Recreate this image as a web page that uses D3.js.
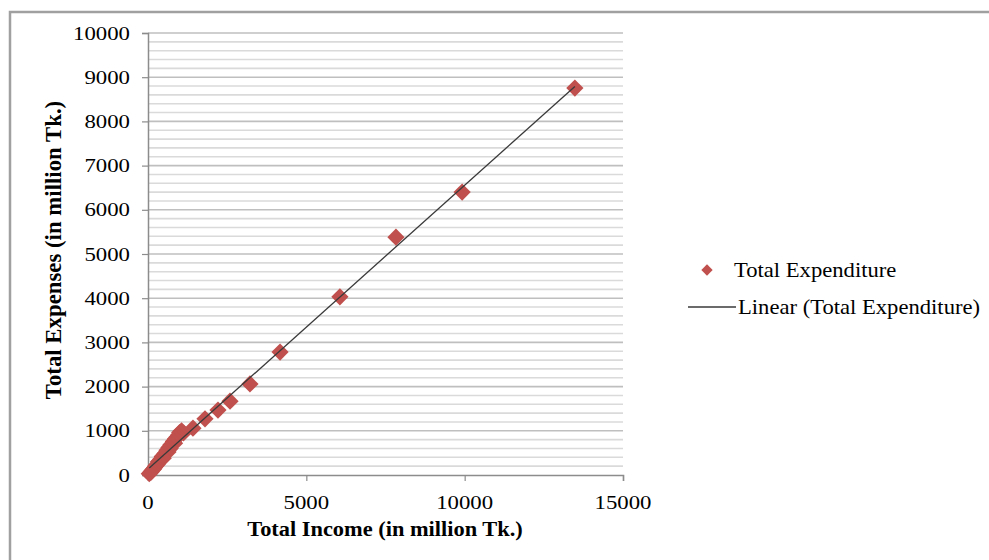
<!DOCTYPE html>
<html>
<head>
<meta charset="utf-8">
<script src="https://cdn.jsdelivr.net/npm/d3@7"></script>
<style>
  html, body { margin: 0; padding: 0; background: #fff; }
  svg { display: block; }
  text { font-family: "Liberation Serif", "Times New Roman", serif; fill: #000; }
</style>
</head>
<body>
<svg id="chart" width="989" height="560"></svg>
<script>
// ---- data (million Tk.) ----
const totalIncome = [
  13480, 9920, 7830, 6060, 4170, 3220, 2590, 2210, 1800, 1420, 1120,
  1060, 1000, 960, 920, 870, 840, 800, 760, 720, 700, 660, 630, 600,
  560, 520, 480, 450, 410, 370, 330, 290, 250, 210, 170, 130, 90, 40
];
const totalExpenditure = [
  8755, 6400, 5380, 4030, 2780, 2060, 1670, 1470, 1270, 1060, 950,
  1000, 960, 900, 860, 820, 720, 760, 700, 680, 600, 620, 520, 560,
  500, 470, 380, 420, 360, 320, 300, 240, 210, 170, 130, 100, 60, 30
];
const xTicks = [0, 5000, 10000, 15000];
const yTicks = [0, 1000, 2000, 3000, 4000, 5000, 6000, 7000, 8000, 9000, 10000];
const seriesName = "Total Expenditure";
const trendName = "Linear (Total Expenditure)";
const xTitle = "Total Income (in million Tk.)";
const yTitle = "Total Expenses (in million Tk.)";

// ---- layout ----
const svg = d3.select("#chart");
const pLeft = 148, pRight = 623, pTop = 33, pBottom = 475;
const x = d3.scaleLinear().domain([0, 15000]).range([pLeft, pRight]);
const y = d3.scaleLinear().domain([0, 10000]).range([pBottom, pTop]);
const red = "#c0504d";

// outer frame
svg.append("path")
  .attr("d", "M10,562 L10,12 L992,12")
  .attr("fill", "none").attr("stroke", "#a0a0a0").attr("stroke-width", 2.5);

// minor gridlines
const minor = d3.range(200, 10001, 200).filter(v => v % 1000 !== 0);
svg.append("g").selectAll("line").data(minor).join("line")
  .attr("x1", pLeft).attr("x2", pRight)
  .attr("y1", d => y(d)).attr("y2", d => y(d))
  .attr("stroke", "#dadada").attr("stroke-width", 1.6);

// major gridlines
svg.append("g").selectAll("line").data(yTicks.filter(v => v > 0)).join("line")
  .attr("x1", pLeft).attr("x2", pRight)
  .attr("y1", d => y(d)).attr("y2", d => y(d))
  .attr("stroke", "#bfbfbf").attr("stroke-width", 1.6);

// axes
const xAxis = svg.append("g").attr("transform", `translate(0,${pBottom})`)
  .call(d3.axisBottom(x).tickValues(xTicks).tickSize(6).tickFormat(""));
const yAxis = svg.append("g").attr("transform", `translate(${pLeft},0)`)
  .call(d3.axisLeft(y).tickValues(yTicks).tickSize(6).tickFormat(""));
[xAxis, yAxis].forEach(g => {
  g.select(".domain").attr("stroke", "#8c8c8c").attr("stroke-width", 1.5);
  g.selectAll(".tick line").attr("stroke", "#8c8c8c").attr("stroke-width", 1.2);
});

// tick labels (stretched horizontally like the source)
const tickSX = 1.2;
svg.append("g").selectAll("text").data(yTicks).join("text")
  .attr("transform", d => `translate(130,${y(d) + 6.5}) scale(${tickSX},1)`)
  .attr("text-anchor", "end").attr("font-size", 19)
  .text(d => d);
svg.append("g").selectAll("text").data(xTicks).join("text")
  .attr("transform", d => `translate(${x(d)},${pBottom + 34}) scale(${tickSX},1)`)
  .attr("text-anchor", "middle").attr("font-size", 19)
  .text(d => d);

// axis titles
svg.append("text")
  .attr("transform", `translate(385,536) scale(1.12,1)`)
  .attr("text-anchor", "middle").attr("font-size", 20).attr("font-weight", "bold")
  .text(xTitle);
svg.append("text")
  .attr("transform", `translate(61,250) rotate(-90)`)
  .attr("text-anchor", "middle").attr("font-size", 22.8).attr("font-weight", "bold")
  .text(yTitle);

// linear trendline (least squares)
const n = totalIncome.length;
const mx = d3.mean(totalIncome), my = d3.mean(totalExpenditure);
let sxy = 0, sxx = 0;
for (let i = 0; i < n; i++) {
  sxy += (totalIncome[i] - mx) * (totalExpenditure[i] - my);
  sxx += (totalIncome[i] - mx) ** 2;
}
const slope = sxy / sxx, intercept = my - slope * mx;
const [xmin, xmax] = d3.extent(totalIncome);

// markers
const diamond = d3.symbol().type(d3.symbolSquare).size(148);
svg.append("g").selectAll("path").data(totalIncome.map((v, i) => [v, totalExpenditure[i]]))
  .join("path")
  .attr("d", diamond)
  .attr("transform", d => `translate(${x(d[0])},${y(d[1])}) rotate(45)`)
  .attr("fill", red);

svg.append("line")
  .attr("x1", x(xmin)).attr("y1", y(slope * xmin + intercept))
  .attr("x2", x(xmax)).attr("y2", y(slope * xmax + intercept))
  .attr("stroke", "#3a3a3a").attr("stroke-width", 1.3);

// legend
const lg = svg.append("g");
lg.append("path").attr("d", d3.symbol().type(d3.symbolSquare).size(64))
  .attr("transform", "translate(707,270) rotate(45)").attr("fill", red);
lg.append("text").attr("transform", "translate(734,277) scale(1.12,1)")
  .attr("font-size", 20.2).text(seriesName);
lg.append("line").attr("x1", 688).attr("x2", 736).attr("y1", 307).attr("y2", 307)
  .attr("stroke", "#3a3a3a").attr("stroke-width", 1.3);
lg.append("text").attr("transform", "translate(738,314) scale(1.12,1)")
  .attr("font-size", 20.2).text(trendName);
</script>
</body>
</html>
